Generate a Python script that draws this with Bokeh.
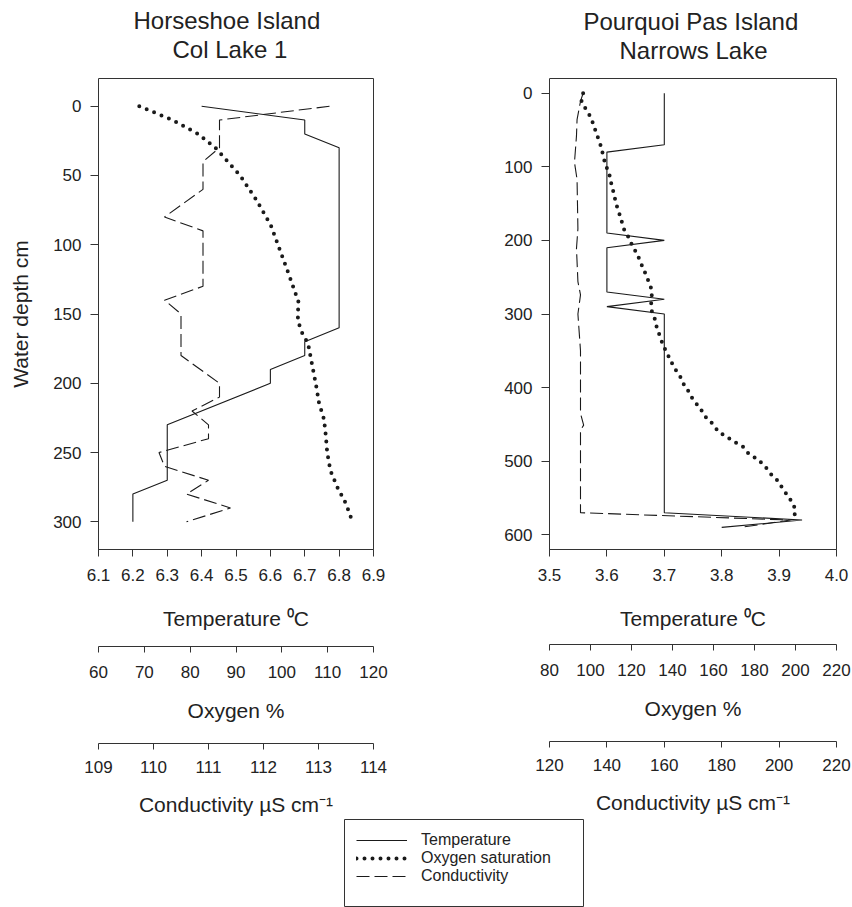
from bokeh.plotting import figure
from bokeh.models import (Range1d, LinearAxis, FixedTicker, NumeralTickFormatter,
                          Title, Legend, LegendItem, Spacer)
from bokeh.layouts import row, column
from bokeh.embed import file_html
from bokeh.resources import INLINE

FONT = "Liberation Sans"
TXT = "#222222"
LINE = "#1a1a1a"
AXC = "#333333"

# ---------------- data: Horseshoe Island, Col Lake 1 ----------------
hs_temp_depth = [0, 10, 20, 30, 160, 170, 180, 190, 200, 230, 270, 280, 300]
hs_temp = [6.4, 6.7, 6.7, 6.8, 6.8, 6.7, 6.7, 6.6, 6.6, 6.3, 6.3, 6.2, 6.2]

hs_oxy_depth = [0, 10, 20, 30, 50, 68, 86, 105, 123, 141, 153, 159, 165, 171, 190,
                202, 214, 226, 238, 250, 263, 275, 287, 299]
hs_oxy = [68.9, 76.2, 81.7, 85.5, 90.9, 94.5, 97.6, 99.7, 101.7, 103.6, 103.5, 103.9,
          104.6, 105.7, 106.8, 107.5, 108.1, 109.2, 109.6, 109.9, 110.6, 112.1, 114.0, 115.3]

hs_cond_depth = [0, 10, 30, 40, 60, 80, 90, 130, 140, 150, 180, 200, 210, 220, 230,
                 240, 250, 260, 270, 280, 290, 300]
hs_cond = [113.2, 111.2, 111.2, 110.9, 110.9, 110.2, 110.9, 110.9, 110.2, 110.5, 110.5,
           111.2, 111.2, 110.7, 111.0, 111.0, 110.1, 110.2, 111.0, 110.6, 111.4, 110.6]

hs_temp_ticks = [6.1, 6.2, 6.3, 6.4, 6.5, 6.6, 6.7, 6.8, 6.9]
hs_oxy_ticks = [60, 70, 80, 90, 100, 110, 120]
hs_cond_ticks = [109, 110, 111, 112, 113, 114]
hs_depth_ticks = [0, 50, 100, 150, 200, 250, 300]

# ---------------- data: Pourquoi Pas Island, Narrows Lake ----------------
pp_temp_depth = [0, 70, 80, 190, 200, 210, 270, 280, 290, 300, 570, 580, 590]
pp_temp = [3.7, 3.7, 3.6, 3.6, 3.7, 3.6, 3.6, 3.7, 3.6, 3.7, 3.7, 3.94, 3.8]

pp_oxy_depth = [0, 11, 21, 32, 43, 55, 66, 76, 87, 99, 109, 120, 131, 143, 153, 164,
                175, 187, 197, 208, 219, 230, 241, 252, 263, 274, 285, 296, 307, 318,
                329, 340, 351, 362, 373, 384, 395, 406, 417, 428, 439, 449, 460, 467,
                474, 480, 490, 497, 506, 517, 527, 538, 549, 559, 570, 581]
pp_oxy = [96.4, 95.6, 97.6, 100.0, 101.5, 102.9, 104.4, 105.5, 106.3, 107.6, 109.1,
          109.9, 110.9, 111.9, 112.8, 114.1, 115.3, 116.6, 118.9, 120.5, 122.9, 124.4,
          126.2, 127.8, 129.4, 129.9, 129.6, 129.9, 131.4, 132.3, 133.7, 135.1, 136.9,
          138.9, 140.8, 143.6, 145.4, 148.0, 150.1, 153.5, 155.8, 159.5, 162.4, 166.5,
          170.4, 174.3, 177.2, 181.3, 184.9, 187.8, 191.5, 193.9, 196.7, 199.1, 200.1,
          197.6]

pp_cond_depth = [0, 11, 36, 58, 94, 117, 184, 211, 256, 274, 300, 350, 435, 451, 458,
                 570, 580, 590]
pp_cond = [131.7, 130.8, 129.6, 129.4, 128.7, 129.6, 129.9, 129.4, 129.9, 130.8, 129.9,
           130.8, 130.8, 131.9, 130.8, 130.8, 204.0, 186.6]

pp_temp_ticks = [3.5, 3.6, 3.7, 3.8, 3.9, 4.0]
pp_oxy_ticks = [80, 100, 120, 140, 160, 180, 200, 220]
pp_cond_ticks = [120, 140, 160, 180, 200, 220]
pp_depth_ticks = [0, 100, 200, 300, 400, 500, 600]

series_names = ["Temperature", "Oxygen saturation", "Conductivity"]


def style_text_axis(ax, ticks, fmt, label, tick_out, lab_standoff, title_standoff):
    ax.ticker = FixedTicker(ticks=ticks)
    ax.formatter = NumeralTickFormatter(format=fmt)
    ax.axis_label = label
    ax.axis_label_text_font = FONT
    ax.axis_label_text_font_size = "21px"
    ax.axis_label_text_font_style = "normal"
    ax.axis_label_text_color = TXT
    ax.major_label_text_font = FONT
    ax.major_label_text_font_size = "17px"
    ax.major_label_text_color = TXT
    ax.major_tick_out = tick_out
    ax.major_tick_in = 0
    ax.minor_tick_line_color = None
    ax.minor_tick_out = 0
    ax.minor_tick_in = 0
    ax.axis_line_color = AXC
    ax.major_tick_line_color = AXC
    ax.major_label_standoff = lab_standoff
    ax.axis_label_standoff = title_standoff


def spacer_axis(p, size, range_name, start, side):
    # invisible axis used only to add room between stacked side panels
    ax = LinearAxis(x_range_name=range_name, ticker=FixedTicker(ticks=[start]),
                    axis_line_color=None, major_tick_line_color="white",
                    minor_tick_line_color=None, major_tick_out=size, major_tick_in=0,
                    minor_tick_out=0, minor_tick_in=0, major_label_standoff=0,
                    major_label_text_font_size="1px", major_label_text_color=None)
    p.add_layout(ax, side)


def make_panel(line1, line2, off1, off2, xr, oxr, cxr, yr, temp_ticks, oxy_ticks,
               cond_ticks, depth_ticks, tdep, tval, odep, oval, cdep, cval, width,
               height, bl, br, bt, bb, ylabel, sp_top, sp1, sp2):
    p = figure(width=width, height=height, title=None, toolbar_location=None,
               output_backend="svg", x_range=Range1d(*xr), y_range=Range1d(*yr),
               min_border_left=bl, min_border_right=br, min_border_top=bt,
               min_border_bottom=bb, outline_line_color=AXC, outline_line_width=1)
    p.extra_x_ranges = {"oxy": Range1d(*oxr), "cond": Range1d(*cxr)}
    p.xgrid.visible = False
    p.ygrid.visible = False
    p.background_fill_color = "white"
    p.border_fill_color = "white"

    style_text_axis(p.xaxis[0], temp_ticks, "0.0", "Temperature \u2070C", 7, 12, 23)
    style_text_axis(p.yaxis[0], depth_ticks, "0", ylabel, 8, 9, 18)

    spacer_axis(p, sp1, "oxy", oxr[0], "below")
    oax = LinearAxis(x_range_name="oxy")
    style_text_axis(oax, oxy_ticks, "0", "Oxygen %", 6, 13, 18)
    p.add_layout(oax, "below")
    spacer_axis(p, sp2, "cond", cxr[0], "below")
    cax = LinearAxis(x_range_name="cond")
    style_text_axis(cax, cond_ticks, "0", "Conductivity \u00b5S cm\u207b\u00b9", 6, 11, 17)
    p.add_layout(cax, "below")

    # two-line title: spacer, second line, first line (stacked outward)
    spacer_axis(p, sp_top, "oxy", oxr[0], "above")
    for txt, off in ((line2, off2), (line1, off1)):
        t = Title(text=txt, align="left", offset=off, standoff=0, text_font=FONT,
                  text_font_size="24px", text_font_style="normal", text_color=TXT)
        p.add_layout(t, "above")

    p.line(tval, tdep, line_color=LINE, line_width=1.1)
    p.line(oval, odep, x_range_name="oxy", line_color=LINE, line_width=4,
           line_dash="0 8", line_cap="round")
    p.line(cval, cdep, x_range_name="cond", line_color=LINE, line_width=1.1,
           line_dash="13 5")
    return p


p1 = make_panel("Horseshoe Island", "Col Lake 1", 35, 74, (6.1, 6.9), (60, 120),
                (109, 114), (320, -20), hs_temp_ticks, hs_oxy_ticks, hs_cond_ticks,
                hs_depth_ticks, hs_temp_depth, hs_temp, hs_oxy_depth, hs_oxy,
                hs_cond_depth, hs_cond, 440, 819, 98, 67, 78, 270, "Water depth cm",
                16, 14, 19)
p2 = make_panel("Pourquoi Pas Island", "Narrows Lake", 34, 70, (3.5, 4.0), (80, 220),
                (120, 220), (620, -20), pp_temp_ticks, pp_oxy_ticks, pp_cond_ticks,
                pp_depth_ticks, pp_temp_depth, pp_temp, pp_oxy_depth, pp_oxy,
                pp_cond_depth, pp_cond, 412, 819, 109, 16, 76, 268, None, 15, 12, 19)

# ---------------- legend box ----------------
# the sample renderers reuse the series but lie outside this small figure's ranges
leg = figure(width=240, height=88, toolbar_location=None, output_backend="svg",
             x_range=Range1d(-2, -1), y_range=Range1d(-2, -1), min_border=0,
             outline_line_color=AXC, outline_line_width=1)
leg.axis.visible = False
leg.grid.visible = False
r_t = leg.line(hs_temp, hs_temp_depth, line_color=LINE, line_width=1.1)
r_o = leg.line(hs_oxy, hs_oxy_depth, line_color=LINE, line_width=4, line_dash="0 8",
               line_cap="round")
r_c = leg.line(hs_cond, hs_cond_depth, line_color=LINE, line_width=1.1, line_dash="13 5")
legend = Legend(items=[LegendItem(label=series_names[0], renderers=[r_t]),
                       LegendItem(label=series_names[1], renderers=[r_o]),
                       LegendItem(label=series_names[2], renderers=[r_c])],
                location="top_left", padding=2, margin=12, spacing=0,
                glyph_width=51, glyph_height=16, label_height=16, label_standoff=14,
                label_text_font=FONT, label_text_font_size="16px", label_text_color=TXT,
                border_line_color=None, background_fill_alpha=0)
leg.add_layout(legend)

layout = column(row(p1, p2), row(Spacer(width=344, height=88), leg))

open("out.html", "w").write(file_html(layout, INLINE))
